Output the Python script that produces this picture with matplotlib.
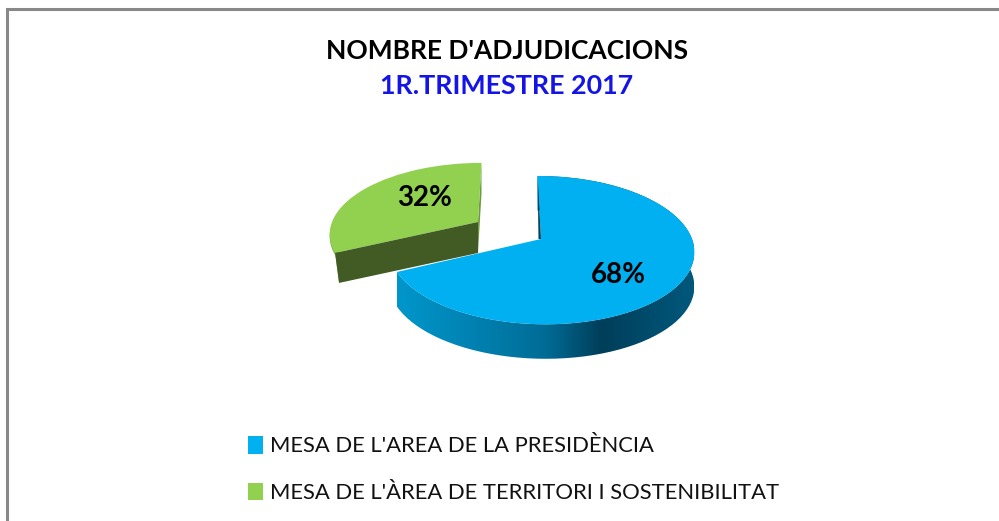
import numpy as np
import matplotlib
matplotlib.use('Agg')
import matplotlib.pyplot as plt
from matplotlib.colors import LinearSegmentedColormap
from matplotlib.patches import Polygon
from matplotlib.transforms import Transform

plt.rcParams['font.family'] = ['Lato', 'DejaVu Sans']

labels = ["MESA DE L'AREA DE LA PRESIDÈNCIA", "MESA DE L'ÀREA DE TERRITORI I SOSTENIBILITAT"]
values = [68, 32]
colors = ['#00B0F0', '#92D050']


# unit disk -> pixel position, with a bit of perspective (far side is smaller)
class Tilt(Transform):
    input_dims = 2
    output_dims = 2

    def __init__(self, cx, cy, lean, rx, ry):
        super().__init__()
        self.cx, self.cy, self.lean, self.rx, self.ry = cx, cy, lean, rx, ry

    def transform_non_affine(self, xy):
        xy = np.asarray(xy, dtype=float)
        w = 1 + 0.15 * xy[:, 1]
        return np.column_stack([self.cx + (self.rx * xy[:, 0] + self.lean * xy[:, 1]) / w,
                                self.cy - self.ry * xy[:, 1] / w])


def arc(t, a, b):
    # a, b are degrees clockwise from 12 o'clock
    ang = np.radians(np.linspace(a, b, 80))
    return t.transform_non_affine(np.column_stack([np.sin(ang), np.cos(ang)]))


fig = plt.figure(figsize=(9.99, 5.21), dpi=100)
ax = fig.add_axes([0, 0, 1, 1])

wedges, _, pct = ax.pie(values, colors=colors, startangle=90, counterclock=False, radius=1,
                        autopct='%.0f%%', textprops={'fontsize': 20, 'fontweight': 'bold', 'color': 'black'})
ax.set_aspect('auto')
ax.set_xlim(0, 999)
ax.set_ylim(521, 0)
ax.axis('off')

split = 360 * values[0] / sum(values)
blue_t = Tilt(541, 239, -4, 151, 72.5)
green_t = Tilt(478, 222, 4, 146, 68)
wedges[0].set_transform(blue_t + ax.transData)
wedges[1].set_transform(green_t + ax.transData)
wedges[0].set_zorder(3)
wedges[1].set_zorder(3)

# blue side wall, shaded left to right
depth = 34.5
top = arc(blue_t, 0, split)
wall = np.vstack([top, (top + [0, depth])[::-1]])
shade = LinearSegmentedColormap.from_list('wall', [(0, '#0096CB'), (0.25, '#0082B2'), (0.5, '#006C96'),
                                                   (0.69, '#003E5A'), (1, '#00587C')])
im = ax.imshow(np.linspace(0, 1, 300)[None, :], cmap=shade, extent=(397, 694, 400, 150), aspect='auto', zorder=1)
ax.set_xlim(0, 999)
ax.set_ylim(521, 0)
clip = Polygon(wall, transform=ax.transData, fc='none', ec='none')
ax.add_patch(clip)
im.set_clip_path(clip)

# green side walls
depth_g = 31
outer = arc(green_t, split, 360)
apex = np.array([478, 222])
corner, end = outer[0], outer[-1]
corner_low = corner + [4, depth_g - 1]
left_part = outer[:25]
ax.add_patch(Polygon(np.vstack([corner_low, left_part[::-1] + [0, 2], left_part[0]]), fc='#7DB247', ec='none', zorder=1))
ax.add_patch(Polygon([end, end + [0, depth_g], apex + [0, depth_g], apex], fc='#6F9A3F', ec='none', zorder=2))
ax.add_patch(Polygon([apex, corner, corner_low, apex + [0, depth_g]], fc='#425A24', ec='none', zorder=4))

# thin dark edge on the blue cut
ax.add_patch(Polygon([top[0], [541, 239], [538.5, 239]], fc='#00405C', ec='none', zorder=4))

pct[0].set_position((618, 275))
pct[1].set_position((425, 198))
pct[0].set_zorder(5)
pct[1].set_zorder(5)

# frame is only the top and left edge
ax.plot([6.5, 6.5, 999], [521, 8.5, 8.5], color='#888888', lw=2.2, solid_joinstyle='miter')

ax.text(507.5, 51, "NOMBRE D'ADJUDICACIONS", ha='center', va='center', fontsize=19, fontweight='bold', color='black')
ax.text(506.5, 86, '1R.TRIMESTRE 2017', ha='center', va='center', fontsize=19.4, fontweight='bold', color='#1414E6')

ax.legend(wedges, labels, loc='upper left', bbox_to_anchor=(248, 436), bbox_transform=ax.transData,
          frameon=False, fontsize=15.8, handlelength=0.68, handleheight=0.85, handletextpad=0.32, labelspacing=1.2,
          borderaxespad=0, borderpad=0, labelcolor='#111111')

fig.savefig('out.png', dpi=100)
